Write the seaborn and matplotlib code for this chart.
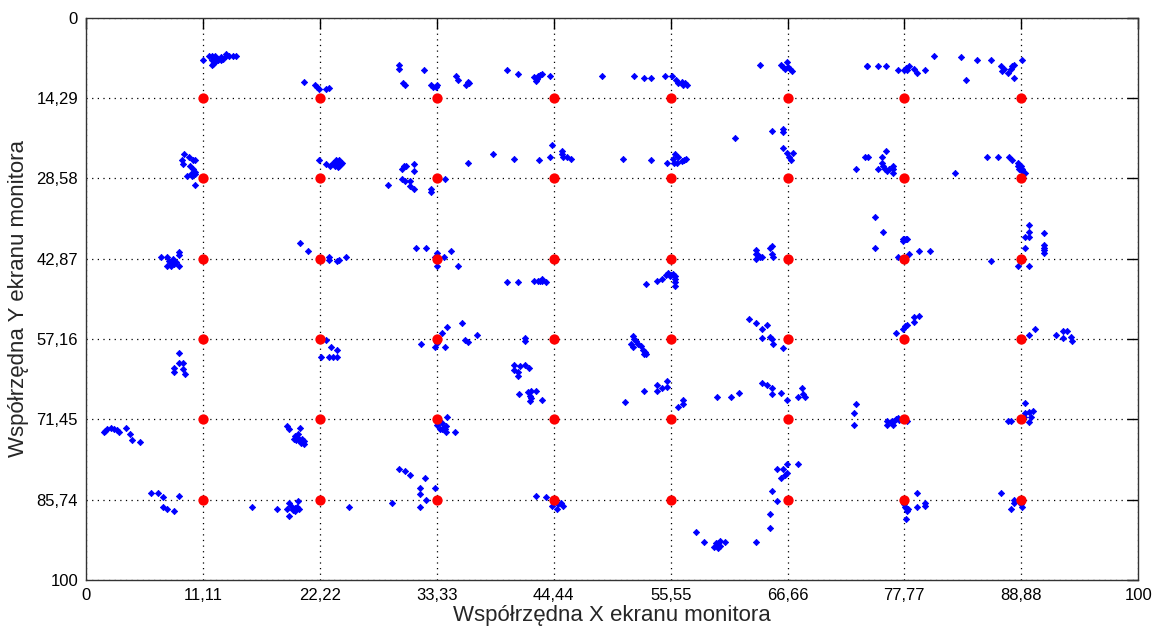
import numpy as np
import pandas as pd
import matplotlib
matplotlib.use("Agg")
import matplotlib.pyplot as plt
import seaborn as sns

# Target grid (red points)
target_x = [11.11, 22.22, 33.33, 44.44, 55.55, 66.66, 77.77, 88.88]
target_y = [14.29, 28.58, 42.87, 57.16, 71.45, 85.74]

x_ticks = [0, 11.11, 22.22, 33.33, 44.44, 55.55, 66.66, 77.77, 88.88, 100]
x_tick_labels = ["0", "11,11", "22,22", "33,33", "44,44", "55,55", "66,66", "77,77", "88,88", "100"]
y_ticks = [0, 14.29, 28.58, 42.87, 57.16, 71.45, 85.74, 100]
y_tick_labels = ["0", "14,29", "28,58", "42,87", "57,16", "71,45", "85,74", "100"]

# Gaze points (blue), one line per cluster
gaze_x = [
    11.1, 11.7, 11.9, 12.2, 11.9, 12.0, 11.9, 12.2, 12.5, 12.8, 13.0, 13.3, 13.3, 13.6, 13.9, 14.2, 12.2, 12.5, 12.8,
    20.7, 21.7, 21.9, 22.1, 22.8, 23.1,
    29.7, 29.7, 32.1, 30.1, 30.3, 32.75, 33.0, 33.2, 33.3, 35.1, 35.3, 36.1, 36.3, 36.4,
    40.0, 41.0, 42.6, 42.7, 42.9, 43.1, 43.3, 42.8, 44.1, 49.0,
    52.1, 53.0, 53.7, 55.0, 55.7, 56.1, 56.25, 56.6, 56.9, 57.1, 56.7,
    64.0, 66.0, 66.2, 66.4, 66.6, 66.7, 66.9, 67.1, 74.2,
    74.25, 75.3, 76.0, 77.2, 77.7, 77.95, 78.2, 78.05, 78.7, 79.0, 79.7, 80.6, 83.2, 83.65, 84.7, 86.0, 87.0, 87.2, 87.1, 87.6, 87.9, 88.0, 88.2, 88.2, 89.0,
    9.3, 9.8, 9.1, 9.2, 10.1, 10.35, 9.85, 10.1, 10.3, 9.9, 9.6, 10.0, 10.35, 10.3,
    22.1, 22.8, 23.2, 23.4, 23.7, 24.0, 24.2, 23.9, 23.6, 24.3, 24.0, 23.9,
    28.7, 30.0, 30.2, 30.4, 31.1, 31.1, 30.0, 30.3, 30.75, 30.75, 31.1, 32.75, 32.75, 34.1,
    36.3, 38.7, 40.7, 43.0, 44.1, 44.3, 45.2, 45.3, 45.7, 46.1, 45.2,
    51.0, 53.7, 55.2, 55.8, 56.0, 56.25, 55.9, 56.2, 56.6, 57.05, 56.8,
    61.7, 65.2, 66.2, 66.2, 66.2, 66.6, 66.8, 67.0, 67.2,
    73.2, 74.0, 74.3, 75.6, 76.0, 75.6, 75.7, 75.3, 75.9, 76.15, 76.3, 76.7, 76.7, 76.7, 82.6,
    85.65, 86.7, 87.7, 88.0, 88.6, 88.6, 88.7, 88.9, 89.0, 89.0, 89.2,
    7.1, 7.7, 7.9, 8.0, 8.2, 8.35, 7.7, 8.0, 8.8, 8.8, 8.8, 8.5,
    20.3, 21.1, 23.1, 23.1, 23.8, 24.0, 24.7,
    31.3, 32.3, 33.3, 33.1, 33.4, 34.0, 34.7, 33.3, 35.3,
    40.0, 41.0, 42.6, 42.9, 43.3, 43.3, 43.7, 43.1,
    53.2, 54.25, 54.7, 55.1, 55.3, 55.5, 55.8, 56.0, 56.0, 56.0, 56.0, 55.6,
    63.7, 63.7, 63.7, 64.0, 64.2, 65.0, 65.2, 65.2, 65.3, 63.85,
    75.0, 75.7, 75.0, 77.2, 77.6, 77.7, 77.95, 78.05, 77.6, 78.2, 79.2, 80.2, 86.0,
    89.6, 89.6, 89.2, 89.6, 89.2, 91.0, 91.0, 91.0, 91.0, 91.0, 88.6, 89.6,
    8.8, 8.8, 9.15, 8.35, 8.35, 9.15, 9.4,
    22.8, 23.3, 23.8, 22.3, 23.1, 23.4, 23.8,
    35.7, 34.3, 33.8, 37.1, 36.0, 36.3, 31.8, 33.3, 33.1, 34.1, 33.3,
    41.7, 41.7, 40.7, 41.2, 41.7, 42.1, 40.7, 41.0, 41.0, 41.1, 42.0, 42.3, 42.7, 42.2, 42.3, 42.2, 43.3,
    52.0, 52.1, 52.3, 51.75, 52.0, 52.45, 52.7, 52.9, 53.1, 53.2, 53.0,
    53.0, 54.25, 54.25, 54.7, 55.2, 55.2, 51.25, 56.25, 56.7, 56.7,
    63.0, 63.7, 64.2, 64.7, 64.2, 65.0, 65.2, 65.3, 66.2,
    60.0, 61.3, 62.0, 64.2, 64.7, 65.2, 65.2, 66.0, 66.6, 67.65, 68.0, 68.1, 68.3,
    73.2, 73.0, 73.0,
    77.0, 77.6, 77.8, 78.0, 78.65, 78.65, 79.2,
    89.6, 90.2, 92.2, 92.9, 93.2, 92.9, 93.6, 93.7,
    1.7, 1.8, 2.0, 2.3, 2.65, 2.9, 3.1, 3.8, 4.1, 4.3, 5.1,
    19.1, 19.3, 20.3, 19.8, 20.0, 20.1, 19.7, 19.9, 20.2, 20.5, 20.7, 20.7, 20.4,
    34.3, 33.3, 33.8, 33.8, 34.0, 34.2, 34.2, 35.0, 33.6, 34.1,
    76.15, 76.15, 76.5, 76.7, 76.8, 77.0, 77.2, 78.05, 77.3, 76.6,
    87.6, 87.9, 89.2, 89.2, 89.6, 90.0, 89.8, 89.6, 89.1,
    6.1, 6.8, 7.3, 7.3, 7.7, 8.35, 8.8,
    15.7, 18.1, 19.1, 19.3, 19.5, 19.8, 20.1, 19.85, 20.2, 19.3, 20.0, 19.6, 25.0,
    29.7, 30.3, 30.75, 32.2, 33.1, 31.7, 31.7, 32.3, 31.7, 29.1,
    42.7, 43.7, 44.3, 44.7, 45.1, 45.3, 44.5, 44.85,
    67.65, 66.6, 65.7, 66.2, 66.6, 66.4, 66.0, 65.2, 65.7, 65.0, 65.0,
    58.0, 58.7, 59.7, 59.9, 60.05, 60.2, 60.2, 60.05, 60.7, 63.7,
    79.0, 79.0, 79.7, 79.7, 77.7, 77.95, 78.05, 77.95, 78.1, 77.8,
    87.0, 88.2, 88.2, 87.9, 89.0, 88.9,
]
gaze_y = [
    7.5, 6.9, 6.9, 6.9, 7.6, 8.2, 8.5, 7.3, 7.3, 7.6, 7.3, 6.9, 6.4, 6.9, 6.9, 6.9, 7.9, 7.6, 7.0,
    11.4, 11.9, 12.3, 12.6, 12.6, 12.5,
    8.5, 9.1, 9.25, 11.7, 12.0, 12.0, 12.3, 12.3, 12.0, 10.4, 11.0, 12.0, 11.4, 11.7,
    9.25, 10.1, 10.55, 11.3, 10.4, 10.25, 10.1, 10.85, 10.4, 10.4,
    10.4, 10.7, 10.7, 10.4, 10.4, 11.0, 11.7, 11.4, 11.7, 11.9, 11.9,
    8.5, 8.5, 8.8, 9.2, 7.9, 8.8, 9.1, 9.4, 8.65,
    8.65, 8.65, 8.65, 9.25, 9.25, 8.9, 8.65, 9.25, 9.1, 9.8, 9.25, 6.8, 7.0, 11.0, 7.6, 7.6, 8.65, 9.1, 9.4, 9.8, 9.2, 8.65, 8.5, 10.7, 7.6,
    24.3, 24.7, 25.4, 26.0, 25.4, 25.4, 26.3, 26.9, 27.5, 27.8, 28.2, 28.2, 27.8, 29.8,
    25.4, 26.0, 26.3, 25.8, 25.4, 25.4, 26.0, 26.6, 26.3, 25.8, 26.3, 25.8,
    29.7, 26.9, 26.3, 26.4, 26.0, 27.2, 28.65, 29.1, 29.1, 30.0, 30.4, 30.4, 31.0, 28.65,
    25.8, 24.3, 25.2, 25.4, 24.8, 22.6, 23.7, 24.8, 24.8, 25.2, 24.3,
    25.2, 25.4, 25.8, 25.1, 24.3, 24.7, 25.8, 25.9, 25.5, 25.1, 25.4,
    21.35, 20.2, 19.75, 20.3, 23.2, 24.1, 24.7, 25.3, 24.1,
    26.9, 24.8, 24.8, 24.7, 23.7, 25.9, 26.3, 26.9, 26.9, 27.2, 26.9, 26.3, 26.9, 27.6, 27.6,
    24.7, 24.7, 24.7, 25.4, 25.8, 26.3, 26.9, 26.3, 26.9, 27.3, 27.6,
    42.5, 42.6, 43.2, 43.5, 42.9, 43.8, 44.1, 44.1, 41.7, 42.3, 44.1, 43.5,
    40.1, 41.5, 42.5, 43.1, 43.2, 43.1, 42.6,
    41.0, 41.0, 41.9, 42.5, 42.8, 42.6, 41.5, 44.2, 44.1,
    47.1, 47.1, 46.9, 46.9, 46.4, 46.9, 47.1, 46.8,
    47.4, 46.9, 46.5, 45.7, 45.5, 45.9, 45.6, 45.9, 46.5, 47.1, 47.7, 45.7,
    41.3, 42.05, 42.9, 42.6, 42.5, 40.9, 40.7, 42.05, 42.6, 42.3,
    35.4, 38.1, 41.0, 42.5, 39.7, 39.3, 39.3, 39.3, 39.4, 42.05, 41.5, 41.5, 43.35,
    36.8, 38.1, 39.1, 39.1, 41.0, 38.3, 40.4, 40.9, 41.3, 41.8, 44.1, 44.1,
    59.7, 61.4, 61.4, 62.4, 63.0, 62.5, 63.3,
    57.35, 58.65, 59.1, 60.4, 60.4, 60.4, 60.4,
    54.3, 55.1, 56.0, 56.4, 57.35, 57.65, 58.1, 57.9, 58.65, 58.65, 57.5,
    56.9, 57.5, 61.8, 61.9, 61.8, 62.4, 62.7, 63.0, 63.7, 67.0, 66.5, 66.4, 66.4, 67.3, 67.6, 68.1, 68.0,
    56.7, 57.2, 57.5, 58.1, 58.65, 58.1, 58.4, 59.1, 59.5, 59.8, 59.8,
    66.4, 65.35, 66.4, 65.8, 65.7, 64.6, 68.3, 69.3, 68.7, 68.0,
    53.6, 54.3, 55.4, 54.7, 57.05, 56.75, 57.2, 58.1, 58.8,
    67.4, 67.4, 66.8, 65.05, 65.35, 65.9, 66.96, 66.8, 68.0, 67.5, 65.9, 66.96, 67.4,
    68.7, 70.3, 72.4,
    56.0, 55.3, 54.8, 54.7, 53.3, 54.1, 53.0,
    56.4, 55.4, 56.4, 55.7, 55.7, 57.05, 56.75, 57.5,
    73.7, 73.5, 73.2, 72.9, 73.1, 73.4, 73.7, 73.0, 74.1, 75.1, 75.4,
    72.6, 73.1, 73.0, 74.4, 74.6, 74.1, 75.0, 75.1, 75.1, 75.0, 75.3, 75.9, 75.6,
    71.0, 72.4, 72.1, 73.1, 72.9, 72.6, 73.7, 73.7, 73.2, 73.2,
    71.7, 72.4, 72.0, 72.4, 71.7, 71.4, 71.2, 71.7, 71.6, 71.7,
    71.8, 71.8, 68.6, 70.3, 70.2, 70.0, 71.0, 72.0, 71.1,
    84.6, 84.6, 85.3, 87.0, 87.4, 87.7, 85.05,
    87.0, 87.4, 87.4, 86.4, 86.8, 87.3, 85.9, 87.7, 87.4, 88.7, 87.0, 87.6, 87.0,
    80.3, 80.7, 81.4, 81.8, 83.7, 83.7, 84.75, 85.8, 87.0, 86.4,
    85.05, 85.3, 86.8, 87.4, 86.4, 86.8, 86.2, 86.5,
    79.4, 79.3, 80.3, 80.3, 80.9, 81.4, 81.8, 84.2, 85.9, 88.2, 90.8,
    91.4, 93.2, 94.1, 93.5, 93.35, 93.1, 94.0, 94.4, 93.2, 93.2,
    84.6, 87.0, 86.4, 86.8, 86.5, 87.2, 87.7, 89.2, 87.4, 87.0,
    84.6, 85.8, 86.4, 87.4, 87.0, 86.5,
]
assert len(gaze_x) == len(gaze_y), (len(gaze_x), len(gaze_y))

gaze = pd.DataFrame({"x": gaze_x, "y": gaze_y})
tx, ty = np.meshgrid(target_x, target_y)
targets = pd.DataFrame({"x": tx.ravel(), "y": ty.ravel()})

sns.set_theme(style="white")
plt.rcParams["font.family"] = ["Liberation Sans", "DejaVu Sans"]

fig = plt.figure(figsize=(11.52, 6.31), dpi=100)
ax = fig.add_axes([0.075, 0.081, 0.913, 0.891])

sns.scatterplot(data=gaze, x="x", y="y", ax=ax, color="#0000ff", marker="D",
                s=10, linewidth=0.6, edgecolor="#0000ff", zorder=3)
sns.scatterplot(data=targets, x="x", y="y", ax=ax, color="#ff0000", marker="o",
                s=55, linewidth=0, zorder=4)

ax.set_xlim(0, 100)
ax.set_ylim(100, 0)
ax.set_xticks(x_ticks)
ax.set_xticklabels(x_tick_labels)
ax.set_yticks(y_ticks)
ax.set_yticklabels(y_tick_labels)
ax.grid(True, color="black", linestyle=(0, (1, 3.5)), linewidth=0.9)
ax.tick_params(axis="both", which="both", direction="in", length=8, width=1,
               top=True, right=True, labelsize=12, colors="black", pad=6)
for sp in ax.spines.values():
    sp.set_color("#333333")
    sp.set_linewidth(1.0)

ax.set_xlabel("Współrzędna X ekranu monitora", fontsize=16, labelpad=1)
ax.set_ylabel("Współrzędna Y ekranu monitora", fontsize=16, labelpad=5)

fig.savefig("out.png", dpi=100)
